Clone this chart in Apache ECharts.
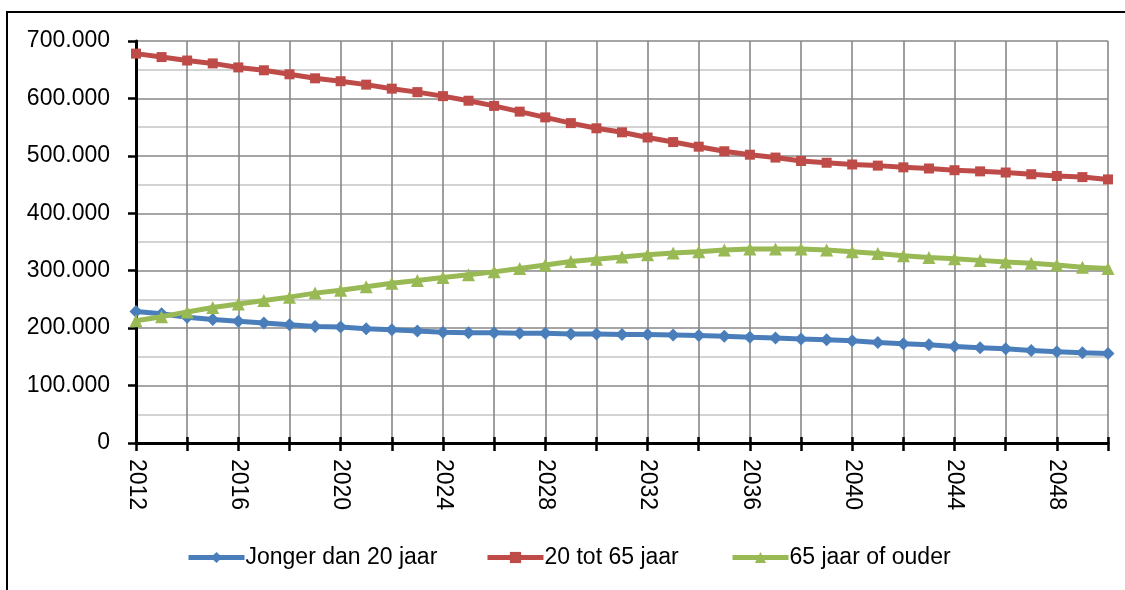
<!DOCTYPE html>
<html>
<head>
<meta charset="utf-8">
<script src="https://cdn.jsdelivr.net/npm/echarts@6/dist/echarts.min.js"></script>
<style>
html,body{margin:0;padding:0;background:#fff;}
#chart{width:1125px;height:590px;}
</style>
</head>
<body>
<div id="chart"></div>
<script>
const years = [];
for (let y = 2012; y <= 2050; y++) years.push(String(y));

const seriesNames = ['Jonger dan 20 jaar', '20 tot 65 jaar', '65 jaar of ouder'];

const jonger20 = [229000,225000,219000,215000,212000,209000,206000,203000,202000,199000,
  197000,195000,193000,192000,192000,191000,191000,190000,190000,189000,
  189000,188000,187000,186000,184000,183000,181000,180000,178000,175000,
  173000,171000,168000,166000,164000,161000,159000,157000,156000];

const tot65 = [678000,672000,666000,661000,654000,649000,642000,635000,630000,624000,
  617000,611000,604000,596000,587000,577000,567000,557000,548000,541000,
  532000,524000,516000,508000,502000,497000,491000,488000,485000,483000,
  480000,478000,475000,473000,471000,468000,465000,463000,459000];

const ouder65 = [213000,220000,228000,236000,242000,248000,254000,261000,266000,272000,
  278000,283000,288000,293000,298000,304000,310000,316000,320000,324000,
  328000,331000,333000,336000,338000,338000,338000,336000,333000,330000,
  326000,323000,321000,318000,315000,313000,310000,306000,304000];

const yMin = 0, yMax = 700000, yStep = 100000;

const FONT = 'Liberation Sans';
function fmt(v){ return String(v).replace(/\B(?=(\d{3})+(?!\d))/g, '.'); }

const chart = echarts.init(document.getElementById('chart'), null, {renderer:'canvas'});
const colors = ['#4A7EBB', '#BE4B48', '#98B954'];
const symbols = ['diamond', 'rect', 'triangle'];
const symSizes = [13, 10, 13];
const datas = [jonger20, tot65, ouder65];
const legendLeft = [186, 485, 730];

chart.setOption({
  backgroundColor: '#fff',
  animation: false,
  textStyle: {fontFamily: FONT},
  graphic: [{
    type: 'rect', silent: true, z: 100,
    shape: {x: 7, y: 12, width: 1140, height: 600},
    style: {fill: 'none', stroke: '#000', lineWidth: 2}
  }],
  grid: {left: 136, top: 41, right: 17, bottom: 147, containLabel: false},
  legend: seriesNames.map((n, i) => ({
    left: legendLeft[i], top: 546, padding: 0,
    itemWidth: 56, itemHeight: 14, itemGap: 0,
    lineStyle: {width: 5},
    textStyle: {fontFamily: FONT, fontSize: 23, color: '#000', padding: [0,0,0,-4]},
    data: [n]
  })),
  xAxis: [{
    type: 'category', data: years, boundaryGap: false,
    axisLine: {show: true, lineStyle: {color: '#000', width: 3}},
    axisTick: {show: true, interval: 1, length: 8, lineStyle: {color: '#000', width: 2.5}},
    axisLabel: {interval: 3, rotate: -90, margin: 16, fontFamily: FONT, fontSize: 23, color: '#000'},
    splitLine: {show: true, interval: 1, lineStyle: {color: '#878787', width: 1.6}}
  }, {
    type: 'category', data: years, boundaryGap: false, position: 'bottom',
    axisLine: {show: false},
    axisTick: {show: true, inside: true, interval: 1, length: 6, lineStyle: {color: '#000', width: 2.5}},
    axisLabel: {show: false},
    splitLine: {show: false}
  }],
  yAxis: {
    type: 'value', min: yMin, max: yMax, interval: yStep,
    axisLine: {show: true, lineStyle: {color: '#000', width: 3}},
    axisTick: {show: true, length: 8, lineStyle: {color: '#000', width: 2.5}},
    axisLabel: {margin: 26, fontFamily: FONT, fontSize: 23, color: '#000', formatter: fmt},
    splitLine: {show: true, lineStyle: {color: '#878787', width: 1.6}},
    minorTick: {show: false, splitNumber: 2},
    minorSplitLine: {show: true, lineStyle: {color: '#c4c4c4', width: 1.6}}
  },
  series: seriesNames.map((n, i) => ({
    name: n, type: 'line', data: datas[i],
    symbol: symbols[i], symbolSize: symSizes[i], showAllSymbol: true,
    itemStyle: {color: colors[i]},
    lineStyle: {color: colors[i], width: 5},
    z: 3 + i
  }))
});
</script>
</body>
</html>
